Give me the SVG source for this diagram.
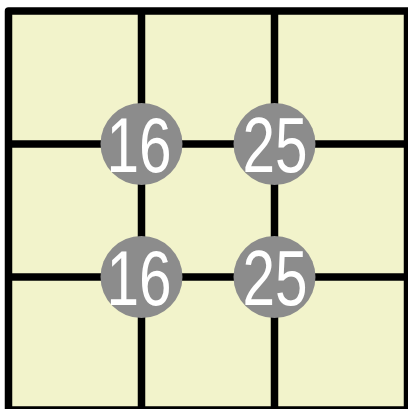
<svg xmlns="http://www.w3.org/2000/svg" width="408" height="409" viewBox="0 0 408 409">
<style>
.line{stroke:#000;stroke-width:7.5;fill:none;stroke-linejoin:round;stroke-linecap:butt}
.dot{fill:#8c8c8c}
.num{fill:#fff;font-family:"Liberation Sans",Arial,sans-serif;font-size:78px;text-anchor:middle}
</style>
<rect width="408" height="409" fill="#fff"/>
<g id="grid">
<rect x="8.5" y="11" width="399" height="399" fill="#f2f3cb"/>
<g class="line">
<rect x="8.5" y="11" width="399" height="399"/>
<line x1="141.5" y1="11" x2="141.5" y2="410"/>
<line x1="274.5" y1="11" x2="274.5" y2="410"/>
<line x1="8.5" y1="144" x2="407.5" y2="144"/>
<line x1="8.5" y1="277" x2="407.5" y2="277"/>
</g>
</g>
<g id="n1"><circle class="dot" cx="141.5" cy="144" r="41"/><text class="num" transform="translate(139 171.7) scale(0.75 1)">16</text></g>
<g id="n2"><circle class="dot" cx="274.5" cy="144" r="41"/><text class="num" transform="translate(275 171.7) scale(0.75 1)">25</text></g>
<g id="n3"><circle class="dot" cx="141.5" cy="277" r="41"/><text class="num" transform="translate(139 304.7) scale(0.75 1)">16</text></g>
<g id="n4"><circle class="dot" cx="274.5" cy="277" r="41"/><text class="num" transform="translate(275 304.7) scale(0.75 1)">25</text></g>
</svg>
